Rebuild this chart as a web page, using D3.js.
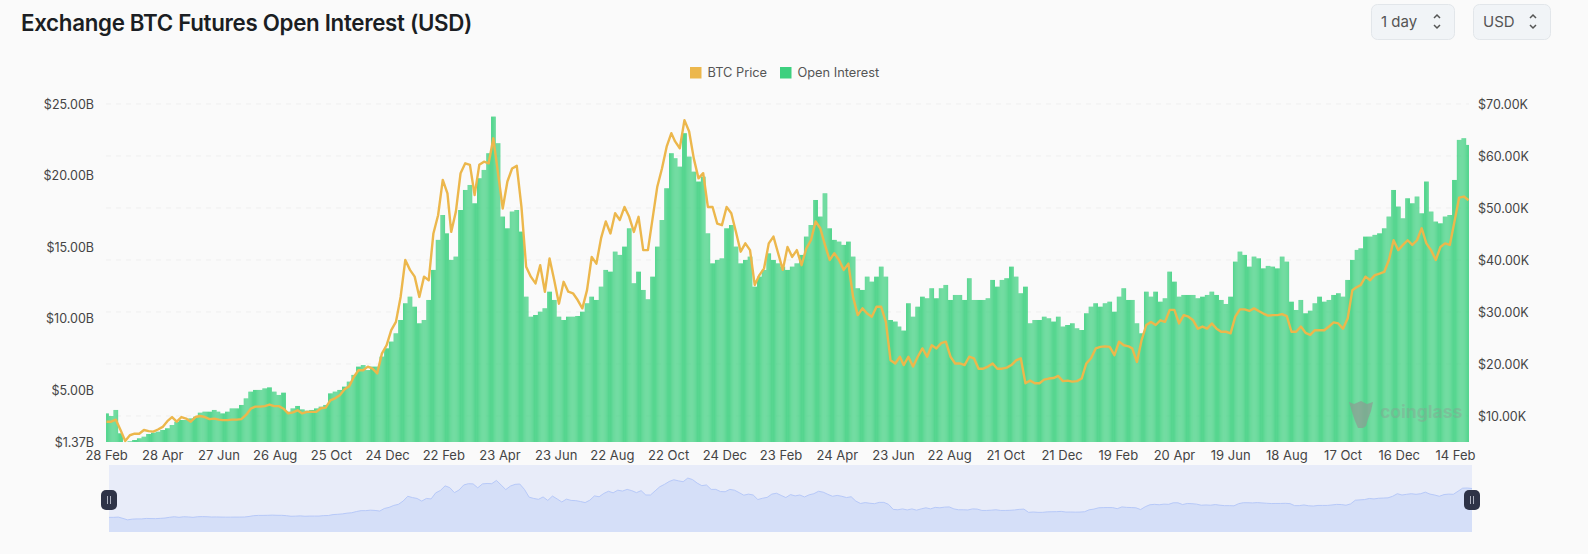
<!DOCTYPE html>
<html>
<head>
<meta charset="utf-8">
<script src="https://cdn.jsdelivr.net/npm/d3@7"></script>
<style>
  html, body { margin: 0; background: #fafafa; overflow: hidden; }
  text { font-family: Inter, "Noto Sans", sans-serif; }
  .tick text { font-size: 12.5px; fill: #444; }
  .date-axis .tick text { font-size: 13px; }
</style>
</head>
<body>
<div id="chart"></div>
<script>
// number of daily bars on the category axis
const dayCount = 1455;

// x axis labels, one every 60 bars
const dateLabels = ['28 Feb', '28 Apr', '27 Jun', '26 Aug', '25 Oct', '24 Dec', '22 Feb', '23 Apr', '23 Jun',
  '22 Aug', '22 Oct', '24 Dec', '23 Feb', '24 Apr', '23 Jun', '22 Aug', '21 Oct', '21 Dec', '19 Feb', '20 Apr',
  '19 Jun', '18 Aug', '17 Oct', '16 Dec', '14 Feb'];
const oiTicks = [1.37, 5, 10, 15, 20, 25];
const priceTicks = [10, 20, 30, 40, 50, 60, 70];

const openInterest = [
  3.37, 3.19, 3.61, 1.98, 1.37, 1.42, 1.51, 1.63, 1.74, 1.93, 2.02, 2.09, 2.21, 2.33, 2.56, 2.79, 2.91, 2.91, 3.02, 3.14,
  3.42, 3.49, 3.49, 3.61, 3.49, 3.37, 3.49, 3.72, 3.72, 3.96, 4.42, 4.89, 5.01, 5.01, 5.12, 5.19, 4.89, 4.66, 4.82, 3.49,
  3.72, 3.89, 3.65, 3.56, 3.61, 3.72, 3.84, 3.96, 4.77, 4.89, 5.01, 5.24, 5.59, 6.06, 6.64, 6.75, 6.40, 6.64, 6.64, 7.34,
  7.92, 8.39, 8.97, 9.90, 11.07, 11.53, 10.83, 9.67, 9.90, 11.30, 13.40, 15.50, 17.24,
  15.96, 14.10, 14.33, 17.59, 18.99, 19.34, 18.06, 19.81, 20.39, 21.56, 24.12, 22.26, 17.13, 16.31, 17.48, 17.59, 16.08,
  11.53, 10.13, 10.25, 10.48, 10.72, 11.88, 11.30, 10.13, 9.90, 10.13, 10.13, 10.18, 10.48, 11.07, 11.53, 11.30, 12.23,
  13.40, 13.28, 14.68, 14.45, 15.03, 16.31, 12.47, 13.28, 12.00, 11.35, 12.93, 15.03, 16.89, 19.11, 21.56, 21.21, 20.62,
  22.96, 21.32, 20.27, 19.58, 19.92, 15.96, 13.86, 14.10, 14.21, 16.31, 16.54, 15.03, 13.86, 14.10, 14.33, 12.23, 12.93,
  13.40, 14.56, 14.10, 13.86, 13.63,
  13.40, 13.63, 13.86, 14.45, 15.73, 16.54, 18.29, 17.13, 18.76, 16.31, 15.50, 15.38, 15.15, 15.38, 14.33, 12.12, 12.00,
  12.93, 12.58, 12.93, 13.63, 12.93, 9.90, 9.79, 9.44, 9.16, 11.07, 10.13, 10.83, 11.53, 11.42, 12.12, 11.42, 12.12, 12.35,
  11.30, 11.65, 11.65, 11.30, 12.82, 11.30, 11.30, 11.30, 11.42, 12.70, 12.23, 12.70, 12.82, 13.63, 12.93, 11.77, 12.23,
  9.67, 9.90, 9.90, 10.13, 10.02, 9.79, 10.13, 9.44, 9.55, 9.67, 9.32, 9.20, 10.37, 10.83, 11.07, 10.83, 11.07, 11.18,
  10.48, 11.53, 12.12,
  11.30, 11.30, 9.67, 8.97, 11.88, 11.53, 11.88, 11.18, 11.42, 13.28, 12.58, 11.53, 11.65, 11.65, 11.65, 11.42, 11.53,
  11.65, 11.88, 11.65, 11.30, 11.02, 11.53, 13.98, 14.68, 14.45, 13.63, 14.33, 14.21, 13.51, 13.68, 13.63, 13.51, 14.33,
  13.98, 11.18, 10.60, 11.30, 10.37, 10.55, 11.07, 11.53, 11.18, 11.30, 11.65, 11.77, 11.53, 12.70, 14.10, 14.80, 14.91,
  15.73, 15.73, 15.85, 15.96, 16.31, 17.13, 18.99, 17.83, 17.01, 18.41, 18.06, 18.53, 17.36, 19.58, 17.48, 16.78, 16.66,
  17.13, 17.24, 19.69, 22.49, 22.61, 22.14
];

// BTC price in $K, same reading step
const btcPrice = [
  8.9, 8.9, 9.3, 7.3, 5.2, 6.3, 6.6, 6.6, 7.3, 7.1, 7.0, 7.4, 7.9, 9.0, 9.8, 8.9, 9.8, 9.5, 8.9, 9.8, 10.0, 9.8, 9.4, 9.5,
  9.3, 9.2, 9.2, 9.3, 9.3, 9.4, 10.2, 11.4, 11.8, 11.8, 11.9, 12.2, 11.9, 11.9, 11.4, 10.5, 10.7, 11.1, 10.5, 10.8, 10.8,
  10.8, 11.5, 11.6, 13.0, 13.4, 14.0, 15.1, 15.7, 17.5, 18.8, 18.8, 19.5, 19.1, 18.2, 22.0, 23.6, 26.5, 28.1, 32.9, 40.0,
  38.1, 36.8, 32.9, 36.8, 36.1, 45.1, 48.6, 55.4,
  52.8, 45.4, 49.3, 56.7, 58.6, 58.3, 52.5, 58.3, 58.9, 58.6, 63.4, 56.7, 49.9, 55.1, 57.6, 58.1, 50.2, 38.7, 36.8, 35.5,
  39.0, 33.9, 40.3, 36.1, 31.6, 35.8, 33.9, 33.6, 32.3, 30.7, 34.2, 40.6, 39.3, 44.2, 47.4, 45.1, 49.0, 47.7, 50.2, 48.3,
  45.4, 48.3, 41.9, 41.9, 48.0, 54.1, 57.6, 61.8, 64.4, 62.8, 61.5, 66.9, 64.7, 59.5, 55.7, 56.7, 50.2, 50.2, 47.0, 46.7,
  50.2, 49.0, 45.4, 41.6, 43.2, 41.9, 35.2, 37.1, 38.4, 43.2, 44.5, 41.3, 38.1,
  42.5, 40.6, 41.9, 39.0, 42.2, 43.8, 47.4, 46.1, 42.9, 40.0, 41.3, 40.0, 38.1, 39.3, 32.9, 29.4, 30.7, 29.7, 29.1, 31.0,
  31.0, 28.1, 20.7, 20.1, 21.4, 19.8, 21.4, 19.5, 21.4, 23.0, 21.4, 23.6, 23.0, 24.0, 24.3, 21.4, 20.1, 20.1, 19.8, 21.4,
  21.1, 19.1, 19.1, 19.5, 20.1, 19.1, 19.1, 19.3, 19.8, 20.7, 21.1, 16.3, 16.8, 16.3, 16.3, 17.0, 17.2, 17.3, 17.7, 16.7,
  16.8, 16.6, 16.7, 17.2, 20.1, 21.1, 23.0, 23.3, 23.4, 23.3, 21.7, 24.3, 23.6,
  23.4, 23.0, 20.4, 24.6, 27.5, 28.1, 27.5, 28.4, 28.1, 30.4, 30.4, 27.8, 29.4, 29.1, 28.4, 26.8, 27.2, 26.8, 27.8, 26.8,
  26.2, 26.2, 25.9, 29.1, 30.5, 30.5, 30.2, 30.7, 30.2, 29.7, 29.3, 29.4, 29.4, 29.6, 29.2, 26.2, 26.2, 27.2, 26.0, 25.6,
  26.5, 26.5, 26.5, 27.2, 28.0, 27.8, 26.8, 28.8, 34.2, 34.7, 35.2, 36.8, 36.1, 37.1, 37.4, 37.7, 40.0, 43.8, 41.9, 42.9,
  43.8, 42.9, 43.8, 46.1, 43.2, 41.9, 40.0, 42.5, 43.2, 42.9, 47.4, 52.0, 52.2, 51.5
];

const width = 1588;
const height = 554;

// plot area
const [plotTop, plotBottom, plotLeft, plotRight] = [104, 442, 106, 1469];
// navigator area under the chart
const [navTop, navBottom, navLeft, navRight] = [465, 532, 109, 1472];

const green = '#3dd07f';
const gold = '#ecb74c';

const daysPerReading = (dayCount - 1) / (openInterest.length - 1);
const days = d3.range(dayCount);

const x = d3.scaleBand().domain(days).range([plotLeft, plotRight]).paddingInner(0.08).paddingOuter(0.04);
const yOi = d3.scaleLinear().domain([1.37, 25]).range([plotBottom, plotTop]);
const yPrice = d3.scaleLinear().domain([5, 70]).range([plotBottom, plotTop]);

const svg = d3.select('#chart').append('svg')
  .attr('width', width)
  .attr('height', height)
  .style('display', 'block');

svg.append('rect').attr('width', width).attr('height', height).attr('fill', '#fafafa');

// title
svg.append('text')
  .attr('x', 21).attr('y', 31)
  .attr('font-size', 22.3).attr('font-weight', 600)
  .attr('fill', '#1b1e23').attr('letter-spacing', -0.3)
  .text('Exchange BTC Futures Open Interest (USD)');

// select boxes
const selects = [
  { label: '1 day', left: 1371, right: 1454 },
  { label: 'USD', left: 1473, right: 1550 }
];
selects.forEach(s => {
  svg.append('rect')
    .attr('x', s.left + 0.5).attr('y', 4.5)
    .attr('width', s.right - s.left).attr('height', 35)
    .attr('rx', 6)
    .attr('fill', '#f1f4f7').attr('stroke', '#e2e6ea');
  svg.append('text')
    .attr('x', s.left + 10).attr('y', 27)
    .attr('font-size', 15).attr('fill', '#555')
    .text(s.label);
  const cx = s.right - 17;
  svg.append('path')
    .attr('d', `M${cx - 3},18 L${cx},15 L${cx + 3},18 M${cx - 3},25 L${cx},28 L${cx + 3},25`)
    .attr('fill', 'none').attr('stroke', '#555').attr('stroke-width', 1.5);
});

// legend
const legendItems = [
  { label: 'BTC Price', color: gold, left: 690 },
  { label: 'Open Interest', color: green, left: 780 }
];
legendItems.forEach(l => {
  svg.append('rect')
    .attr('x', l.left).attr('y', 67)
    .attr('width', 11.5).attr('height', 11.5)
    .attr('fill', l.color);
  svg.append('text')
    .attr('x', l.left + 17.5).attr('y', 77)
    .attr('font-size', 12.8).attr('fill', '#555')
    .text(l.label);
});

// grid lines follow the right axis
svg.append('g')
  .selectAll('line')
  .data(priceTicks)
  .join('line')
  .attr('x1', plotLeft).attr('x2', plotRight)
  .attr('y1', d => yPrice(d)).attr('y2', d => yPrice(d))
  .attr('stroke', '#efefef')
  .attr('stroke-dasharray', '5 5');

// daily bars, each day takes the nearest reading
svg.append('g')
  .selectAll('rect')
  .data(days)
  .join('rect')
  .attr('x', d => x(d))
  .attr('width', x.bandwidth())
  .attr('y', d => yOi(openInterest[Math.round(d / daysPerReading)]))
  .attr('height', d => plotBottom - yOi(openInterest[Math.round(d / daysPerReading)]))
  .attr('fill', green);

// price line
const priceLine = d3.line()
  .x((d, i) => x(Math.round(i * daysPerReading)) + x.bandwidth() / 2)
  .y(d => yPrice(d));

svg.append('path')
  .datum(btcPrice)
  .attr('d', priceLine)
  .attr('fill', 'none')
  .attr('stroke', gold)
  .attr('stroke-width', 2.4)
  .attr('stroke-linejoin', 'round');

// watermark
const mark = svg.append('g');
mark.append('path')
  .attr('d', 'M1349,402 L1354,404 L1361,401 L1367,404 L1373,402 L1371,411 L1368,419 L1366,426 L1363,428 L1358,428 L1355,421 L1352,412 Z')
  .attr('fill', '#8d9b93').attr('opacity', 0.7);
mark.append('text')
  .attr('x', 1380).attr('y', 418)
  .attr('font-size', 17.5).attr('font-weight', 700)
  .attr('fill', '#8d9b93').attr('opacity', 0.4)
  .text('coinglass');

// axes
const leftAxis = d3.axisLeft(yOi)
  .tickValues(oiTicks)
  .tickFormat(d => `$${d.toFixed(2)}B`)
  .tickSize(0).tickPadding(12);
const rightAxis = d3.axisRight(yPrice)
  .tickValues(priceTicks)
  .tickFormat(d => `$${d.toFixed(2)}K`)
  .tickSize(0).tickPadding(9);
const bottomAxis = d3.axisBottom(x)
  .tickValues(d3.range(0, dayCount, 60))
  .tickFormat((d, i) => dateLabels[i])
  .tickSize(0).tickPadding(9);

svg.append('g').attr('transform', `translate(${plotLeft},0)`).call(leftAxis)
  .call(g => g.select('.domain').remove());
svg.append('g').attr('transform', `translate(${plotRight},0)`).call(rightAxis)
  .call(g => g.select('.domain').remove());
svg.append('g').attr('class', 'date-axis').attr('transform', `translate(0,${plotBottom})`).call(bottomAxis)
  .call(g => g.select('.domain').remove());

// navigator: same price series at a small scale
const navX = d3.scaleLinear().domain([0, btcPrice.length - 1]).range([navLeft, navRight]);
const navY = d3.scaleLinear().domain([5, 67]).range([520, 478]);

svg.append('rect')
  .attr('x', navLeft).attr('y', navTop)
  .attr('width', navRight - navLeft).attr('height', navBottom - navTop)
  .attr('fill', '#e8ecf9');
svg.append('path')
  .datum(btcPrice)
  .attr('d', d3.area().x((d, i) => navX(i)).y0(navBottom).y1(d => navY(d)))
  .attr('fill', '#d5dff8');
svg.append('path')
  .datum(btcPrice)
  .attr('d', d3.line().x((d, i) => navX(i)).y(d => navY(d)))
  .attr('fill', 'none')
  .attr('stroke', '#b7c9f8')
  .attr('stroke-width', 1);

// navigator handles
[navLeft, navRight].forEach(h => {
  svg.append('rect')
    .attr('x', h - 8).attr('y', 490)
    .attr('width', 16).attr('height', 20)
    .attr('rx', 5)
    .attr('fill', '#2e3347');
  svg.append('path')
    .attr('d', `M${h - 1.5},496 V504 M${h + 1.5},496 V504`)
    .attr('stroke', '#aeb2c0').attr('stroke-width', 1);
});
</script>
</body>
</html>
